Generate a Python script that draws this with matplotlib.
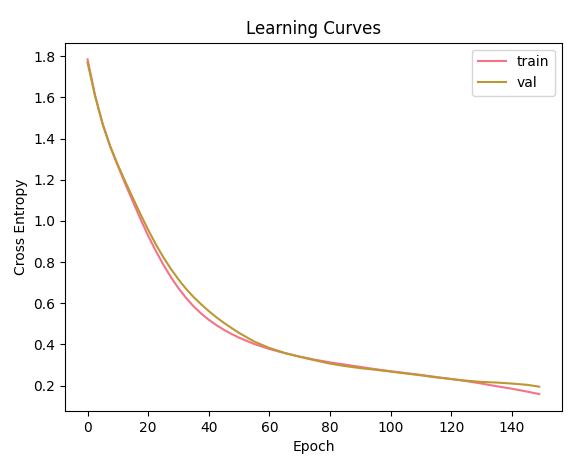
"""Learning curves: train vs validation cross entropy."""

import matplotlib

matplotlib.use("Agg")
import matplotlib.pyplot as plt

epochs = [0, 2.5, 5, 7.5, 10, 12.5, 15, 17.5, 20, 22.5, 25, 27.5, 30, 32.5,
          35, 37.5, 40, 42.5, 45, 47.5, 50, 55, 60, 65, 70, 75, 80, 85, 90,
          95, 100, 105, 110, 115, 120, 125, 130, 135, 140, 145, 149]
train_loss = [1.785, 1.61, 1.47, 1.36, 1.268, 1.178, 1.093, 1.008, 0.928,
              0.855, 0.788, 0.727, 0.673, 0.626, 0.585, 0.55, 0.52, 0.494,
              0.471, 0.451, 0.433, 0.402, 0.378, 0.358, 0.341, 0.326, 0.313,
              0.302, 0.291, 0.280, 0.270, 0.261, 0.252, 0.242, 0.232, 0.222,
              0.210, 0.197, 0.185, 0.171, 0.159]
val_loss = [1.77, 1.605, 1.47, 1.362, 1.272, 1.19, 1.11, 1.032, 0.957,
            0.887, 0.824, 0.767, 0.716, 0.67, 0.63, 0.595, 0.562, 0.532,
            0.505, 0.48, 0.456, 0.414, 0.383, 0.359, 0.34, 0.323, 0.307,
            0.295, 0.285, 0.277, 0.268, 0.259, 0.25, 0.24, 0.232, 0.224,
            0.218, 0.215, 0.21, 0.204, 0.195]

TRAIN_COLOR = "#f77189"
VAL_COLOR = "#bb9832"

fig, ax = plt.subplots(figsize=(5.75, 4.59), dpi=100)
fig.subplots_adjust(left=0.113, right=0.977, top=0.907, bottom=0.105)

ax.plot(epochs, train_loss, color=TRAIN_COLOR, label="train")
ax.plot(epochs, val_loss, color=VAL_COLOR, label="val")
ax.set_title("Learning Curves")
ax.set_xlabel("Epoch")
ax.set_ylabel("Cross Entropy")
ax.legend(loc="upper right")

fig.savefig("out.png")
plt.close(fig)
